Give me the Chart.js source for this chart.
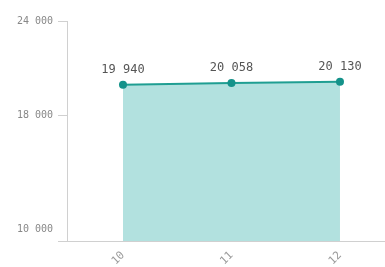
<!DOCTYPE html>
<html>
<head>
<meta charset="utf-8">
<script src="https://cdn.jsdelivr.net/npm/chart.js@4/dist/chart.umd.min.js"></script>
<style>
body{margin:0;background:#fff;}
#wrap{width:385px;height:267px;}
</style>
</head>
<body>
<div id="wrap"><canvas id="chart" width="385" height="267"></canvas></div>
<script>
// data
let categories=['10','11','12'];
let values=[19940,20058,20130];
let y_ticks=[10000,18000,24000];
let y_tick_labels=['10 000','18 000','24 000'];

let mono='"DejaVu Sans Mono", monospace';

function fmt(v){
    return String(v).replace(/\B(?=(\d{3})+(?!\d))/g,' ');
}

// x as numbers so the plot can run past the last point
let points=categories.map((c,i)=>({x:Number(c),y:values[i]}));

//value labels above each point
let value_labels={
    id:'value_labels',
    afterDatasetsDraw(chart){
        let ctx=chart.ctx;
        let meta=chart.getDatasetMeta(0);
        ctx.save();
        ctx.font='12px '+mono;
        ctx.fillStyle='#555';
        ctx.textAlign='center';
        ctx.textBaseline='middle';
        meta.data.forEach((p,i)=>{
            ctx.fillText(fmt(values[i]),p.x,p.y-15);
        });
        ctx.restore();
    }
};

//y labels drawn by hand, the bottom one sits above the axis line
let y_labels={
    id:'y_labels',
    afterDraw(chart){
        let ctx=chart.ctx;
        let y=chart.scales.y;
        ctx.save();
        ctx.font='10px '+mono;
        ctx.fillStyle='#888';
        ctx.textAlign='right';
        ctx.textBaseline='middle';
        y_ticks.forEach((t,i)=>{
            let py=y.getPixelForValue(t);
            if(i==0) py-=12;
            ctx.fillText(y_tick_labels[i],y.left-5,py);
        });
        ctx.restore();
    }
};

new Chart(document.querySelector('#chart').getContext('2d'),{
    type:'line',
    data:{
        datasets:[{
            data:points,
            borderColor:'#1f9e92',
            borderWidth:2,
            backgroundColor:'#b2e1df',
            fill:'start',
            pointRadius:4,
            pointBackgroundColor:'#14928a',
            pointBorderColor:'#14928a',
            pointBorderWidth:0,
            tension:0
        }]
    },
    options:{
        responsive:false,
        animation:false,
        layout:{autoPadding:false,padding:{top:21,left:58,right:0,bottom:0}},
        plugins:{legend:{display:false},tooltip:{enabled:false}},
        scales:{
            x:{
                type:'linear',
                min:9.484,
                max:12.415,
                afterBuildTicks(axis){
                    axis.ticks=categories.map(c=>({value:Number(c)}));
                },
                afterFit(axis){
                    axis.height=26;
                    axis.paddingLeft=0;
                    axis.paddingRight=0;
                },
                grid:{display:false},
                border:{display:true,color:'#d0d0d0',width:1},
                ticks:{
                    font:{family:mono,size:11},
                    color:'#999',
                    minRotation:45,
                    maxRotation:45,
                    padding:0,
                    callback:(v)=>String(v)
                }
            },
            y:{
                min:10000,
                max:24000,
                afterBuildTicks(axis){
                    axis.ticks=y_ticks.map(v=>({value:v}));
                },
                grid:{drawOnChartArea:false,tickLength:9,color:'#d0d0d0'},
                border:{display:true,color:'#d0d0d0',width:1},
                ticks:{display:false}
            }
        }
    },
    plugins:[value_labels,y_labels]
});
</script>
</body>
</html>
